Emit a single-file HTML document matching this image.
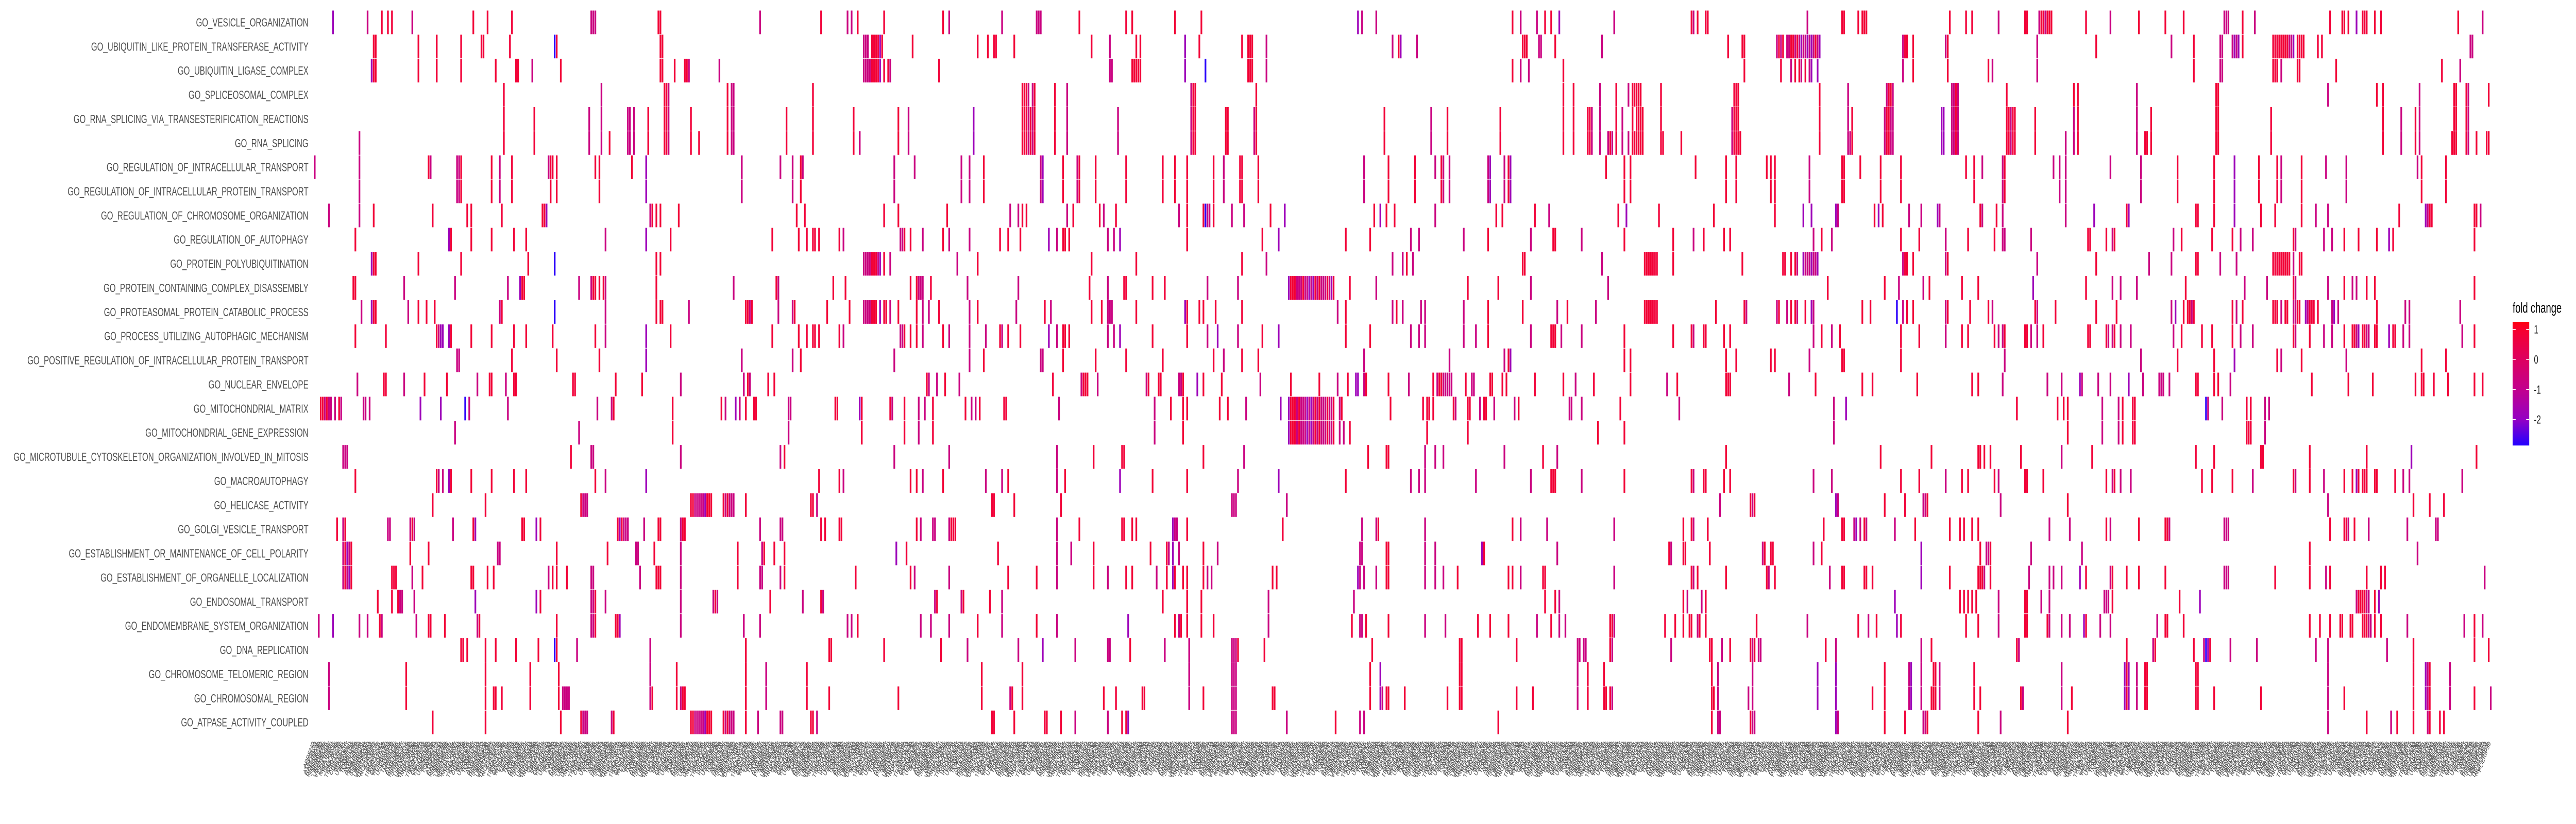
<!DOCTYPE html>
<html>
<head>
<meta charset="utf-8">
<style>
  html,body{margin:0;padding:0;background:#fff;width:100%;height:100%;overflow:hidden;}
  svg{display:block;width:100vw;height:100vh;}
  text{font-family:"Liberation Sans",Arial,sans-serif;}
</style>
</head>
<body>
<svg id="chart" viewBox="0 0 7600 1600" preserveAspectRatio="none" xmlns="http://www.w3.org/2000/svg">
  <rect x="0" y="0" width="7600" height="1600" fill="#ffffff"/>
  <g id="cells"></g>
  <g id="ylabels"></g>
  <g id="xlabels"></g>
  <g id="legend">
    <defs>
      <linearGradient id="fcgrad" x1="0" y1="0" x2="0" y2="1">
        <stop offset="0" stop-color="#ff0010"/>
        <stop offset="0.0625" stop-color="#f7002e"/>
        <stop offset="0.305" stop-color="#dd0060"/>
        <stop offset="0.548" stop-color="#c2008e"/>
        <stop offset="0.791" stop-color="#9400c4"/>
        <stop offset="1" stop-color="#2200ff"/>
      </linearGradient>
    </defs>
    <text x="7413" y="607" font-size="28" fill="#000">fold change</text>
    <rect x="7413" y="625" width="49" height="240" fill="url(#fcgrad)"/>
    <g id="legendticks"></g>
  </g>
</svg>
<script>
// ---- data ----
const goTerms = [
 "GO_VESICLE_ORGANIZATION",
 "GO_UBIQUITIN_LIKE_PROTEIN_TRANSFERASE_ACTIVITY",
 "GO_UBIQUITIN_LIGASE_COMPLEX",
 "GO_SPLICEOSOMAL_COMPLEX",
 "GO_RNA_SPLICING_VIA_TRANSESTERIFICATION_REACTIONS",
 "GO_RNA_SPLICING",
 "GO_REGULATION_OF_INTRACELLULAR_TRANSPORT",
 "GO_REGULATION_OF_INTRACELLULAR_PROTEIN_TRANSPORT",
 "GO_REGULATION_OF_CHROMOSOME_ORGANIZATION",
 "GO_REGULATION_OF_AUTOPHAGY",
 "GO_PROTEIN_POLYUBIQUITINATION",
 "GO_PROTEIN_CONTAINING_COMPLEX_DISASSEMBLY",
 "GO_PROTEASOMAL_PROTEIN_CATABOLIC_PROCESS",
 "GO_PROCESS_UTILIZING_AUTOPHAGIC_MECHANISM",
 "GO_POSITIVE_REGULATION_OF_INTRACELLULAR_PROTEIN_TRANSPORT",
 "GO_NUCLEAR_ENVELOPE",
 "GO_MITOCHONDRIAL_MATRIX",
 "GO_MITOCHONDRIAL_GENE_EXPRESSION",
 "GO_MICROTUBULE_CYTOSKELETON_ORGANIZATION_INVOLVED_IN_MITOSIS",
 "GO_MACROAUTOPHAGY",
 "GO_HELICASE_ACTIVITY",
 "GO_GOLGI_VESICLE_TRANSPORT",
 "GO_ESTABLISHMENT_OR_MAINTENANCE_OF_CELL_POLARITY",
 "GO_ESTABLISHMENT_OF_ORGANELLE_LOCALIZATION",
 "GO_ENDOSOMAL_TRANSPORT",
 "GO_ENDOMEMBRANE_SYSTEM_ORGANIZATION",
 "GO_DNA_REPLICATION",
 "GO_CHROMOSOME_TELOMERIC_REGION",
 "GO_CHROMOSOMAL_REGION",
 "GO_ATPASE_ACTIVITY_COUPLED"
];
const geneCount = 1071;
const levelCodes = ["r", "m", "v", "b"];
const levelValues = [0.8, -0.7, -1.8, -2.8];
const legendTicks = [1, 0, -1, -2];
const rowCells = [
"9v 26m 33r 36r 38r 48m 78r 85r 97r 136m 137m 138m 169r 170r 219m 249r 262m 264m 267r 280r 309r 312m 338m 355m 356m 357m 376r 399r 402r 423r 436r 513v 515m 522m 589r 593m 601m 605r 608r 612v 639m 677r 678m 680r 684r 685r 734m 751r 752r 759r 761r 762r 763r 804r 812r 815r 828m 841r 842r 848m 849r 850r 851m 852r 853r 854r 871r 883m 897r 910r 919r 939m 940m 941m 948r 954m 991r 997r 998r 1000r 1004v 1007r 1008r 1009r 1013r 1016r 1054r 1066m",
"29r 30r 51r 60r 72r 82r 83r 96r 118b 119r 170r 171r 270m 271m 272m 274r 275r 276r 277r 278v 279r 294r 326r 331r 334r 335r 344r 382r 391m 404r 406r 428v 435r 456r 459r 460r 461r 468m 530m 533r 534v 542m 594r 595r 596r 602m 603m 610r 633m 695r 702r 703r 719m 720r 721m 722r 724m 725m 726r 727r 728m 729r 730m 731v 732m 733m 734v 735m 736v 737m 738r 739m 740v 781m 782r 783r 786r 802m 803r 847m 876r 913m 924r 937m 938m 943m 944v 945m 946v 948r 963r 964r 965r 966r 967r 968r 969r 970r 971m 972m 973v 975r 976r 977r 978r 985r 987r 1060m 1061m",
"28v 29r 30r 51r 60r 72r 89r 99r 100r 107m 121r 170r 171r 177r 182r 183r 184m 199m 270m 271m 272m 273m 274r 275r 276r 277r 278v 280r 282r 283m 307r 391m 392m 402r 403r 404r 405r 406r 428v 438b 459r 460r 461r 468m 589r 593m 597m 614r 703r 721r 726m 728r 730r 731m 733r 735m 736v 739v 781m 786r 803r 823r 825m 847m 924r 937m 938m 963r 964r 965r 967m 975r 976r 994r 1046r 1055m",
"93r 141m 172r 173r 174m 203r 205m 206m 245r 348r 349r 350r 351m 353m 354r 364r 370m 431m 432r 433r 463r 614r 619r 632m 640r 646m 648r 649r 650r 651r 652r 662r 698r 699r 700r 740r 754m 773m 774r 775r 776m 805m 806m 807r 808m 832r 865r 867r 896m 935r 936r 990m 1014r 1017r 1035m 1052r 1053r 1058r 1059m 1069r",
"93r 108r 135m 141m 154m 155m 157m 164r 172r 173r 174m 185r 203r 205m 206m 232r 245r 265r 287r 292m 324v 348r 349r 350r 351m 352r 353m 354r 364r 370m 395m 431m 432r 433r 448r 449r 462m 463r 526r 549m 557r 583r 614r 619r 626r 627r 628m 632m 640r 643m 648r 650r 651r 652r 653r 662r 697m 698r 699r 700r 740r 754m 756r 772m 773r 774r 775m 776m 800v 801v 805m 806m 807r 808m 832r 833r 834m 835r 836r 846r 865m 867r 896m 903r 935r 936r 962r 1017r 1026m 1033r 1035m 1052r 1053r 1058r 1059m",
"22m 93r 108r 135m 141m 145r 154m 155m 157m 164r 172r 173r 174m 185r 189r 203r 205m 206m 232r 245r 265r 268m 287r 292m 324v 348r 349r 350r 351m 352r 353m 354r 364r 370m 395m 431m 432r 433r 448r 449r 462m 463r 526r 549m 557r 583r 614r 619r 626r 627r 628m 632m 636m 637r 638m 640r 643m 646m 648r 649r 650r 651r 652r 653r 662r 663r 672r 697m 698r 699r 700r 701r 740r 754m 755m 756r 772m 773r 774r 775m 776m 800v 801v 805m 806m 807r 808m 832r 833r 834m 835r 836r 846r 861m 865m 867r 896m 900r 901r 903r 935r 936r 962r 1017r 1026m 1033r 1035m 1051r 1052r 1053r 1058r 1059m 1063r 1068r 1069r",
"0m 22m 57m 56r 70m 71m 72r 87r 91m 97r 115m 116r 117r 119r 138r 140r 156r 163v 210m 229m 235m 239r 240m 285m 295m 318m 322m 329r 357m 358v 368r 375m 376r 384r 399r 417r 423r 429r 442r 447m 455r 456r 464r 516m 528r 541r 551m 554r 555m 558m 577m 578v 585m 587r 588v 635r 644r 647r 679r 694r 699r 714r 716r 718r 735m 751r 752r 760r 770r 780r 812r 816r 820m 830m 831r 855m 858m 861m 883m 898m 916r 934r 944v 956r 965r 967m 977r 989m 999m 1034m 1036r 1048r",
"22m 70m 71m 72r 87r 91m 97r 116r 119r 140r 163v 210m 235m 239r 285m 318m 322m 329r 357m 358v 368r 375m 376r 384r 399r 417r 423r 429r 442r 447m 455r 456r 464r 516m 528r 541r 554r 555m 558m 577m 578v 585m 587r 588v 644r 647r 694r 699r 716r 718r 735m 751r 752r 770r 780r 816r 830m 831r 858m 861m 898m 916r 934r 944v 956r 965r 967m 977r 999m 1036r 1048r",
"7m 22m 29r 58r 75r 77r 92r 112r 113r 114v 165m 166r 168r 170r 179r 237r 241r 280r 287r 311r 342m 346m 348r 350r 370m 373r 386r 388m 394r 425m 429r 437r 438b 439m 440m 442r 451m 457m 470r 477v 521r 524v 527r 531r 551m 581r 584r 600r 607m 641r 645v 661r 688r 718r 732v 736v 748v 749m 767r 769v 771r 784m 790m 798v 799m 819r 820m 827r 830m 861m 875v 891r 892v 925r 926r 934r 944v 957r 964r 977r 984m 990m 1025r 1038v 1039m 1040r 1041r 1062r 1063r 1065m",
"20r 66v 67r 77r 87r 98r 104r 143m 163v 175r 225r 238r 242r 245r 246r 248r 258r 260m 288m 289m 290r 293r 299m 309r 312m 322m 337r 341r 347r 361v 365m 368r 369r 371r 390m 393m 396v 429r 466r 474v 507r 519r 539m 543m 565m 577r 598m 609r 610r 623m 644r 668r 678m 683r 693r 696r 737m 741r 746m 780r 789r 802m 813r 826r 830m 831m 844m 872r 873r 881r 884m 885r 914m 918r 933r 943r 947m 953m 973r 974m 988m 992m 998r 1005r 1014r 1020v 1022r 1062r",
"28v 29r 30r 51r 72r 105r 118b 168r 170r 270m 271m 272m 273m 274r 275r 276r 277m 278v 280r 283m 316m 326r 382r 404r 456r 468m 530m 535m 537r 540m 594r 595r 633m 654r 655r 656r 657r 658r 659r 660r 668r 702r 722r 723r 726r 728r 729m 732v 733m 734m 735m 736v 737m 738m 739v 781m 782r 783r 786r 802m 803r 847m 876r 902m 913m 925r 926r 937m 945m 963r 964r 965r 966r 967r 968r 969r 970r 971r 973m 976r 977r",
"19r 20r 44m 69m 95m 101v 102r 103r 130m 136m 137r 138r 140r 142r 143m 168r 206m 227r 228m 255r 261r 293r 296r 297m 298m 299m 303r 321m 346m 381r 390m 398r 399r 412r 418r 439m 454m 479v 480r 481r 482r 483m 484m 485m 486r 487m 488m 489v 490m 491v 492r 493m 494r 495m 496m 497m 498r 499m 500v 501r 509r 522m 567r 582r 598m 636m 744r 772r 779m 791m 794r 810r 818r 845v 871r 884m 888m 896m 920r 949m 960m 973r 974m 990m 998r 1002m 1004m 1009r 1013r 1062r",
"23m 28v 29r 30r 46m 51r 55r 59r 91m 92r 118b 143m 168r 170r 171r 184m 212r 213r 214m 215r 228m 235m 236r 252r 263r 270m 271m 272m 273m 274r 275r 276r 278v 280r 281r 283m 287r 296r 299m 302m 307r 322m 326r 345m 359r 362m 382r 387r 390m 391m 392m 404r 428v 429r 435r 437r 443r 456r 503m 507r 530m 532r 535m 544m 546m 565m 577r 594r 611m 616r 630m 654r 655r 656r 657r 658r 659r 660r 689r 703r 704m 719m 720r 724m 726r 728r 729m 733r 736v 737m 761r 765r 778b 781m 783r 786r 802m 803r 814r 823r 825m 846r 847m 856r 876r 886r 913m 915v 919r 921r 922r 923m 924r 943r 945m 948r 963r 964r 965r 967m 969r 970r 973m 974m 975r 976r 979v 980m 981r 982r 983r 985r 992m 993v 995m 1014r 1028m 1030m 1055m",
"20r 35r 60r 61m 62v 63v 66v 67r 77r 87r 98r 104r 117r 138r 143m 163v 175r 225r 238r 242r 245r 246r 248r 258r 260m 288m 289m 290r 293r 296r 299m 309r 312m 322m 330m 337r 338m 341r 347r 361v 365m 368r 369r 371r 390m 393m 396v 412r 429r 439m 444v 454m 466r 474v 507r 519r 539m 543m 546m 565m 571m 577r 598m 608r 609r 610r 613m 623m 644r 668r 677r 678m 683r 684r 693r 696r 737m 741r 746m 750r 780r 789r 802m 810r 813r 826r 828m 830m 831r 841r 842r 844m 847m 850r 872r 873r 881r 882m 884m 885r 888m 893m 914m 918r 928r 933r 943r 947m 953m 973r 974m 981r 988m 992m 998r 1002r 1003r 1004m 1005v 1007r 1008r 1009m 1010m 1013r 1014r 1020v 1022r 1023r 1027m 1030m 1056m 1062r",
"70m 71m 97r 119r 140r 163v 210m 235m 239r 285m 322m 329r 357m 358m 368r 384r 399r 417r 442r 447m 456r 464r 516m 558m 585m 587r 588v 644r 647r 694r 699r 716r 718r 735m 751r 752r 780r 831m 898m 916r 934r 944v 965r 967m 977r 999m 1036r 1048r",
"21m 34r 35r 44m 54r 65r 80m 86r 87r 94m 98r 99r 127r 128r 148r 161r 180m 211m 213r 214m 223r 226r 301r 302m 306m 310r 317m 363r 377m 378r 379r 380r 385m 409m 410r 415r 416r 425m 426m 427r 434v 437r 446r 465m 480r 494r 503m 508r 512v 513v 516m 517r 528r 538m 550r 552m 553r 554r 555m 556m 557m 558m 559m 566r 569m 570m 578r 579r 584r 586r 600r 614r 620m 629r 647r 665m 670r 694r 695r 696r 725m 738r 761r 766r 788r 815r 818r 830m 852m 859m 868v 869m 877m 883m 892v 899m 907m 908m 909m 912m 925r 926r 934r 936r 942m 982r 1000r 1012r 1033r 1036r 1037r 1042r 1049r 1062r 1066r",
"3r 4r 5m 6r 7m 8m 10m 12r 13m 24m 25m 27m 52v 62v 74b 76m 95m 139m 146m 147r 176r 200r 202m 207v 209m 212r 216r 217r 233m 234m 256r 257r 268v 269r 283r 284m 290r 297m 300m 304r 320r 323m 325m 327r 339r 340r 366m 413m 421r 427r 429r 445r 449r 458m 475v 479v 480r 481r 482r 483m 484r 485m 486m 487m 488v 489m 490v 491m 492r 493m 494r 495m 496m 497m 498r 499m 500m 501r 504m 505r 529r 545r 547r 548r 550r 560r 561m 567r 568r 573m 575r 576r 580m 590m 592r 617m 618m 623m 642r 671m 747m 753v 837r 857r 860r 862r 879m 887m 889r 894r 895r 930b 931m 938m 950r 952r 959m 961m",
"69m 130m 176r 233m 269r 290r 297m 304r 413m 427r 479v 480r 481r 482r 483m 484r 485m 486m 487m 488v 489m 490v 491m 492r 493m 494r 495m 496m 497m 498r 499m 500m 501r 504m 506m 509r 547r 567r 631r 644r 747m 862r 879m 887m 889r 894r 895r 950r 951r 952r 959m",
"14m 15m 16m 126r 136m 137m 180m 229m 231r 285m 312m 365m 383r 397r 398r 437r 457m 518r 527r 528r 546m 551m 555m 585m 604r 611m 694r 770r 795r 818r 819r 821r 824r 839r 859m 874r 925r 934r 957r 958r 981r 1009r 1031v 1063r",
"20r 60r 61m 63m 66v 67r 77r 87r 98r 104r 138r 143m 163v 248r 258r 260m 293r 296r 299m 309r 330m 338m 341r 365m 369r 396v 412r 429r 454m 474v 507r 539m 543m 546m 571m 598m 608r 609r 610r 623m 644r 677r 678m 683r 684r 693r 696r 737m 746m 780r 789r 802m 810r 813r 826r 828m 841r 842r 850r 881r 884m 885r 888m 893m 928r 933r 943r 953m 973r 974m 981r 988m 998r 1002r 1004v 1005r 1007r 1008r 1009r 1013r 1014r 1023r 1027m 1030m 1056m",
"58r 84r 131r 132m 133m 134m 185r 186r 187m 188m 189m 190m 191m 192v 193r 194r 195r 201r 202m 203r 204m 205m 206m 212r 244r 245r 247m 333r 334r 344r 367r 451m 452m 453m 478m 691m 706r 707m 708r 748v 749m 772r 782r 791m 792m 793r 829m 862r 990m 1032r 1040r 1047r",
"11r 14m 15r 36m 37m 47m 48r 49m 68m 78r 79v 102r 103r 109v 111r 149r 150v 151r 152m 153m 154m 162m 169r 170r 180m 181r 182r 219m 229m 230m 249r 251r 258r 259r 296r 298m 304m 305m 312m 313r 314r 315r 365m 376r 397r 398r 402r 404r 422v 423m 424m 429r 476r 515m 522m 523r 546m 589r 593m 606m 639m 673r 677r 678m 685r 742r 751r 752r 757m 758v 760m 762r 763m 777m 787r 804r 809r 811r 815r 818r 853m 863m 881r 883m 897r 910r 911r 912m 939m 940m 941m 991r 998r 999r 1000m 1003r 1010m 1029m 1043m 1044m",
"14m 15r 16v 17m 18r 47r 56r 90m 91m 119r 144r 158m 159m 167r 180m 208r 220m 221r 226r 231r 286v 291r 336r 365m 372m 383r 411r 419r 420m 422v 425m 437r 444m 514m 515m 527r 528r 546m 551m 574v 575r 611m 666r 667m 673r 674r 686r 712m 713r 716r 717r 737m 741r 790v 819r 822m 823m 824r 844m 869m 981r 1034m",
"14m 15r 16m 17v 18r 38r 39r 40r 48m 53r 77r 78r 85r 88r 115m 117r 119r 124r 136m 137m 160m 168r 169r 170r 180m 208r 219m 220m 229m 231r 266r 293r 295m 312m 341r 355r 365m 383r 390m 399r 402r 414m 419r 422v 423r 427r 429r 437r 439m 441m 471r 473r 513v 514m 516m 522m 527r 528r 546m 551m 555m 562r 587r 589r 593m 604r 605r 639m 677r 678m 680r 694r 714r 715m 718r 745m 751r 752r 762r 763r 766r 790v 804r 818r 819r 820r 821m 824r 843m 853m 855m 859m 868v 871r 883m 884r 891r 897r 910r 939m 940m 941m 964r 981r 989m 991r 1009r 1016r 1018r 1067m",
"31r 38r 41r 42m 43m 49m 79v 109v 111r 136m 137m 138r 143m 180m 196m 197r 198m 224r 240m 249r 250m 305m 306r 318m 319r 332r 338m 417r 429r 436r 469m 511m 605r 610r 612m 673r 675m 682m 684r 777v 809r 811r 813r 815r 817r 828m 841r 842r 849m 853m 880m 881m 882m 884r 917r 927v 1004m 1005r 1006r 1007r 1008r 1009m 1010m 1013r 1015v",
"2m 9v 22m 26m 32r 33m 50m 57r 56r 64r 80m 81r 119r 136m 137m 138r 148r 149r 150v 180m 211m 219m 262m 264m 267r 298m 303m 312m 326r 338m 355r 365m 400v 423r 425m 426r 429r 436r 442r 469m 510r 514m 515m 517r 528r 546m 556m 572r 578r 587r 601m 608r 612m 615m 637r 638r 639m 664r 669r 673r 676r 677r 680m 681r 684r 709r 734m 759r 764m 768r 778v 780r 812r 818r 828m 841r 842r 852r 853m 859m 863m 870v 871r 878m 883m 906m 910r 911r 919r 981r 986r 991r 996r 997r 1001r 1002r 1007r 1008r 1009r 1010m 1011m 1013r 1016r 1029m 1057m 1062r 1066m",
"72r 73r 75r 84r 89r 99r 110r 118b 119r 129m 165m 212r 253r 254r 280r 308r 321m 346m 358v 374m 390m 391m 401r 418m 430m 451m 452m 453m 454r 467r 520r 563r 564r 591r 621m 622m 624m 625m 637r 638m 667m 686r 687r 692m 696r 706r 707m 708r 710m 711m 743r 748m 790m 795r 837r 838m 891r 904m 905r 924r 929m 930b 931v 932r 942m 955m 984m 990m 1019m 1032r 1062r 1069r",
"7m 45r 84r 106r 120r 165m 178r 212r 222m 242r 328r 348r 430m 451m 452m 453m 519r 524v 563r 564r 621m 626r 634r 687r 690m 707m 739v 748v 772r 784m 785v 790m 796r 797r 799m 816r 859m 890v 891r 892v 896m 900r 901r 925r 926r 990m 1032r 1038v 1039m 1040r 1050m",
"7m 45r 84r 88r 89r 92r 106r 120r 122m 123m 124m 125m 165m 166r 178r 180m 181r 182r 212r 222m 242r 253r 287r 328r 342m 343r 348r 388r 394r 407r 408r 430m 437r 451m 452m 453m 471r 472r 519r 524v 525m 527r 528r 536r 557r 563r 564r 591r 599r 621m 626r 634r 635r 637r 638m 687r 688r 690m 705m 707m 739v 748v 766r 772r 784m 785v 790m 795r 796r 797r 799m 816r 819r 839r 840m 859m 864r 890v 891r 892v 896m 900r 901r 925r 926r 934r 957r 990m 998r 1032r 1038v 1039m 1040r 1050m 1062r 1070m",
"58r 84r 121r 131r 132m 133m 134m 146m 147r 185r 186r 187m 188m 189m 190m 191m 192v 193r 194r 195r 201r 202m 203r 204m 205m 206m 212r 218m 229m 230m 244r 245r 247m 333r 334r 344r 359r 360r 367r 374m 390m 397r 399r 400v 451m 452m 453m 478m 502r 514m 516m 582r 687r 690m 691m 706r 707m 708m 748v 749m 772r 782r 791m 792m 793r 818r 829m 862r 990m 1009r 1021m 1024r 1032r 1039m 1040r 1045r 1047r"
];
const geneSyllables = ["AP","ATP","RAB","PSM","SNR","MRP","UBE","VPS","DDX","NUP","POL","SEC","TRIM","KIF","CDC","RPL","EIF","USP","SF","TOM"];

// ---- scales ----
const plotLeft = 926, colPitch = 6, cellW = 5;
const plotTop = 20, rowPitch = 46.87;
function xScale(i){ return plotLeft + i * colPitch; }
function yScale(r){ return plotTop + r * rowPitch; }
const colorStops = [[1.26,[255,0,16]],[1,[247,0,46]],[0,[221,0,96]],[-1,[194,0,142]],[-2,[148,0,196]],[-2.86,[34,0,255]]];
function colorScale(v){
  if (v >= colorStops[0][0]) return "rgb("+colorStops[0][1].join(",")+")";
  for (let k=0;k<colorStops.length-1;k++){
    const a=colorStops[k], b=colorStops[k+1];
    if (v <= a[0] && v >= b[0]){
      const t=(a[0]-v)/(a[0]-b[0]);
      const c=a[1].map((q,j)=>Math.round(q+(b[1][j]-q)*t));
      return "rgb("+c.join(",")+")";
    }
  }
  return "rgb("+colorStops[colorStops.length-1][1].join(",")+")";
}
function legendY(v){ return 698 - 58.3 * v; }

const NS = "http://www.w3.org/2000/svg";
const cellsG = document.getElementById("cells");
const yl = document.getElementById("ylabels");
const xl = document.getElementById("xlabels");
const lt = document.getElementById("legendticks");

goTerms.forEach(function(term, r){
  const y = yScale(r);
  const t = document.createElementNS(NS, "text");
  t.setAttribute("x", 910);
  t.setAttribute("y", y + rowPitch/2 + 8);
  t.setAttribute("text-anchor", "end");
  t.setAttribute("font-size", "23");
  t.setAttribute("fill", "#4d4d4d");
  
  
  t.textContent = term;
  yl.appendChild(t);

  const tokens = rowCells[r].trim().split(/\s+/);
  tokens.forEach(function(tok){
    const col = parseInt(tok, 10);
    const code = tok.replace(/[0-9]/g, "");
    const val = levelValues[levelCodes.indexOf(code)];
    const rect = document.createElementNS(NS, "rect");
    rect.setAttribute("x", xScale(col));
    rect.setAttribute("y", y + 0.5);
    rect.setAttribute("width", cellW);
    rect.setAttribute("height", rowPitch - 1);
    rect.setAttribute("fill", colorScale(val));
    
    
    cellsG.appendChild(rect);
  });
});

for (let i = 0; i < geneCount; i++){
  const name = geneSyllables[i % geneSyllables.length] + geneSyllables[(i*7+3) % geneSyllables.length] + ((i*13)%97);
  const tx = xScale(i) + 3, ty = 1443;
  const t = document.createElementNS(NS, "text");
  t.setAttribute("x", tx);
  t.setAttribute("y", ty);
  t.setAttribute("text-anchor", "end");
  t.setAttribute("font-size", "14");
  t.setAttribute("fill", "#4d4d4d");
  t.setAttribute("transform", "rotate(-62 " + tx + " " + ty + ")");
  
  
  t.textContent = name;
  xl.appendChild(t);
}

legendTicks.forEach(function(v){
  const y = legendY(v);
  [[7413,7422],[7453,7462]].forEach(function(seg){
    const l = document.createElementNS(NS, "line");
    l.setAttribute("x1", seg[0]); l.setAttribute("x2", seg[1]);
    l.setAttribute("y1", y); l.setAttribute("y2", y);
    l.setAttribute("stroke", "#ffffff"); l.setAttribute("stroke-width", "1.5");
    
    
    lt.appendChild(l);
  });
  const t = document.createElementNS(NS, "text");
  t.setAttribute("x", 7476);
  t.setAttribute("y", y + 8);
  t.setAttribute("font-size", "23");
  t.setAttribute("fill", "#1a1a1a");
  
  
  t.textContent = String(v);
  lt.appendChild(t);
});
</script>
</body>
</html>
